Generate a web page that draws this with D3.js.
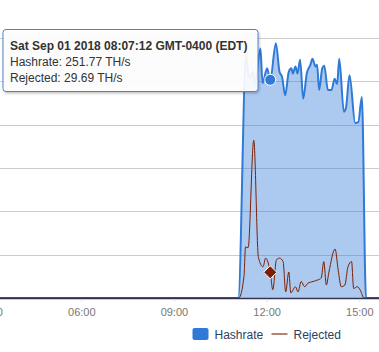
<!DOCTYPE html>
<html>
<head>
<meta charset="utf-8">
<script src="https://cdn.jsdelivr.net/npm/d3@7.9.0/dist/d3.min.js"></script>
<style>
  body { margin: 0; background: #fff; }
  svg { display: block; font-family: Arial, "Liberation Sans", sans-serif; }
</style>
</head>
<body>
<div id="chart"></div>
<script>
// data, times in UTC on 2018-09-01
const hashTimes = ["03:00", "11:05", "11:20", "11:26", "11:34", "11:37", "11:48", "11:52", "12:01", "12:07",
  "12:18", "12:25", "12:30", "12:36", "12:43", "12:48", "12:51", "12:56", "13:00", "13:05",
  "13:11", "13:18", "13:25", "13:29", "13:35", "13:38", "13:42", "13:48", "13:52", "13:59",
  "14:06", "14:12", "14:17", "14:21", "14:30", "14:34", "14:41", "14:52", "14:58", "15:05",
  "15:13", "15:45"];
const hashValues = [0, 0, 279, 254, 261, 246, 288, 248, 265, 251.77,
  294, 261, 255, 234, 261, 265, 259, 267, 259, 275,
  230, 259, 269, 276, 267, 269, 240, 265, 268, 240,
  240, 253, 247, 276, 215, 219, 257, 202, 203, 232,
  0, 0];

const rejTimes = ["03:00", "11:06", "11:16", "11:19", "11:24", "11:35", "11:44", "11:53", "11:58", "12:07",
  "12:12", "12:19", "12:25", "12:32", "12:37", "12:43", "12:47", "12:56", "13:01", "13:07",
  "13:14", "13:20", "13:30", "13:40", "13:46", "13:51", "13:56", "14:01", "14:13", "14:19",
  "14:25", "14:32", "14:38", "14:45", "14:49", "14:56", "15:02", "15:09", "15:45"];
const rejValues = [0, 0, 25, 59, 58, 182, 47, 36, 46, 29.69,
  9.6, 44, 46, 42, 7, 30, 6, 13, 7, 19,
  13, 17, 19, 21, 23, 42, 15, 30, 56.5, 32,
  13, 15, 36, 42, 11, 13, 9, 0, 0];

const xTicks = ["03:00", "06:00", "09:00", "12:00", "15:00"];
const yGrid = [50, 100, 150, 200, 250, 300];
const selected = "12:07";
const tooltipLines = ["Sat Sep 01 2018 08:07:12 GMT-0400 (EDT)", "Hashrate: 251.77 TH/s", "Rejected: 29.69 TH/s"];

const W = 379, H = 352;
const blue = "#2f7ad7", brown = "#7a1f08";
const parse = s => d3.utcParse("%Y-%m-%d %H:%M")("2018-09-01 " + s);

const hash = hashTimes.map((t, i) => ({ t: parse(t), v: hashValues[i] }));
const rej = rejTimes.map((t, i) => ({ t: parse(t), v: rejValues[i] }));

const svg = d3.select("#chart").append("svg")
  .attr("width", W)
  .attr("height", H);

// scales (chart area is wider than the window, left part is cut)
const x = d3.scaleUtc()
  .domain([parse("06:00"), parse("15:00")])
  .range([81.3, 359.3]);
const y = d3.scaleLinear()
  .domain([0, 300])
  .range([298, 38]);

// gridlines
svg.append("g")
  .selectAll("line")
  .data(yGrid)
  .join("line")
  .attr("x1", 0)
  .attr("x2", W)
  .attr("y1", d => Math.round(y(d)) + 0.5)
  .attr("y2", d => Math.round(y(d)) + 0.5)
  .attr("stroke", "#cccccc");

// hashrate area + line
const area = d3.area()
  .x(d => x(d.t))
  .y0(y(0))
  .y1(d => y(d.v))
  .curve(d3.curveMonotoneX);
const line = d3.line()
  .x(d => x(d.t))
  .y(d => y(d.v))
  .curve(d3.curveMonotoneX);

svg.append("path")
  .datum(hash)
  .attr("fill", blue)
  .attr("fill-opacity", 0.4)
  .attr("d", area);

svg.append("path")
  .datum(hash)
  .attr("fill", "none")
  .attr("stroke", blue)
  .attr("stroke-width", 2)
  .attr("d", line);

svg.append("path")
  .datum(rej)
  .attr("fill", "none")
  .attr("stroke", brown)
  .attr("stroke-width", 1)
  .attr("d", line);

// x axis
const axis = svg.append("g")
  .attr("transform", `translate(0,${y(0)})`)
  .call(d3.axisBottom(x)
    .tickValues(xTicks.map(parse))
    .tickFormat(d3.utcFormat("%H:%M"))
    .tickSize(4)
    .tickPadding(6));
axis.select(".domain")
  .attr("d", `M0,0.5H${W}`)
  .attr("stroke", "#333355")
  .attr("stroke-width", 1.5);
axis.selectAll(".tick line").attr("stroke", "#d6e0ee").attr("y1", 1);
axis.selectAll(".tick text")
  .attr("fill", "#777")
  .attr("font-size", "11px")
  .attr("font-family", "Arial, 'Liberation Sans', sans-serif");

// tooltip
const defs = svg.append("defs");
defs.append("filter")
  .attr("id", "shadow")
  .attr("x", "-10%").attr("y", "-10%").attr("width", "120%").attr("height", "130%")
  .append("feDropShadow")
  .attr("dx", 1).attr("dy", 1.5).attr("stdDeviation", 1.2)
  .attr("flood-color", "#000").attr("flood-opacity", 0.25);

const tip = svg.append("g").attr("transform", "translate(3,29.5)");
tip.append("rect")
  .attr("width", 255)
  .attr("height", 62)
  .attr("rx", 3)
  .attr("fill", "#fff")
  .attr("fill-opacity", 0.9)
  .attr("stroke", "#4c82d2")
  .attr("stroke-width", 1)
  .attr("filter", "url(#shadow)");
tip.selectAll("text")
  .data(tooltipLines)
  .join("text")
  .attr("x", 7)
  .attr("y", (d, i) => 20.5 + i * 16)
  .attr("font-size", "12px")
  .attr("font-weight", (d, i) => i === 0 ? "bold" : "normal")
  .attr("fill", "#333")
  .text(d => d);

// selected point markers
const selHash = hash.find(d => +d.t === +parse(selected));
const selRej = rej.find(d => +d.t === +parse(selected));
svg.append("circle")
  .attr("cx", x(selHash.t))
  .attr("cy", y(selHash.v))
  .attr("r", 5.5)
  .attr("fill", blue)
  .attr("stroke", "#fff")
  .attr("stroke-width", 1);
svg.append("path")
  .attr("transform", `translate(${x(selRej.t)},${y(selRej.v)})`)
  .attr("d", d3.symbol(d3.symbolDiamond2, 110)())
  .attr("fill", brown)
  .attr("stroke", "#fff")
  .attr("stroke-width", 1);

// legend
const legend = svg.append("g").attr("transform", "translate(192.5,328)");
legend.append("rect")
  .attr("width", 16)
  .attr("height", 12)
  .attr("rx", 2)
  .attr("fill", blue);
legend.append("text")
  .attr("x", 22)
  .attr("y", 11)
  .attr("font-size", "12px")
  .attr("fill", "#2d3e5e")
  .text("Hashrate");
legend.append("line")
  .attr("x1", 79).attr("x2", 95)
  .attr("y1", 6).attr("y2", 6)
  .attr("stroke", brown)
  .attr("stroke-opacity", 0.55)
  .attr("stroke-width", 2);
legend.append("text")
  .attr("x", 101)
  .attr("y", 11)
  .attr("font-size", "12px")
  .attr("fill", "#2d3e5e")
  .text("Rejected");
</script>
</body>
</html>
